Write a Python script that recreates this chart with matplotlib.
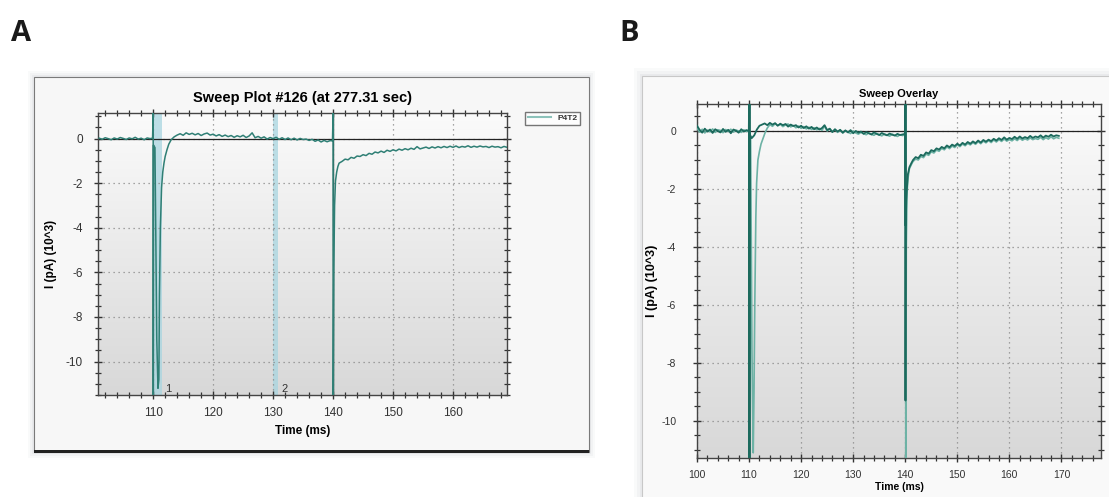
import numpy as np
import matplotlib
matplotlib.use("Agg")
import matplotlib.pyplot as plt
from matplotlib.patches import Rectangle
from matplotlib.ticker import MultipleLocator
from matplotlib.colors import LinearSegmentedColormap

# ---------------- data ----------------
# panel A : single sweep #126
a_pre_t0, a_pre = 101.0, [0.02, -0.03, 0.04, 0.0, -0.05, 0.03, -0.02, 0.05, 0.01, -0.04,
                          0.03, -0.01, 0.06, -0.02, 0.02, -0.05, 0.03, 0.0]
a_spk1_t = [109.9, 110.0, 110.02, 110.06, 110.3, 110.6, 110.8, 110.95, 111.05, 111.2,
            111.4, 111.6, 111.8, 112.0, 112.3, 112.6, 113.0]
a_spk1_v = [0.02, 1.15, -11.5, -0.3, -0.4, -9.0, -11.2, -10.8, -7.0, -4.0,
            -2.2, -1.5, -1.1, -0.8, -0.5, -0.25, -0.05]
a_mid_t0, a_mid = 113.5, [0.08, 0.16, 0.22, 0.15, 0.26, 0.19, 0.24, 0.17, 0.23, 0.14,
                          0.21, 0.25, 0.16, 0.2, 0.12, 0.18, 0.1, 0.16, 0.09, 0.14,
                          0.06, 0.13, 0.08, 0.15, 0.05, 0.12, 0.26, 0.04, 0.1, 0.02,
                          0.08, -0.02, 0.05, 0.0, 0.06, -0.03, 0.04, -0.04, 0.03, -0.05,
                          0.02, -0.06, 0.01, -0.04, -0.02, -0.08, -0.03, -0.12, -0.06, -0.15,
                          -0.08, -0.14, -0.09]
a_spk2_t = [139.9, 140.0, 140.03, 140.12, 140.25, 140.4, 140.6, 140.8, 141.0]
a_spk2_v = [-0.1, 1.15, -11.5, -6.0, -3.0, -1.9, -1.5, -1.25, -1.1]
a_post_t0, a_post = 141.5, [-1.02, -0.92, -0.95, -0.84, -0.88, -0.78, -0.8, -0.72, -0.76, -0.66,
                            -0.7, -0.6, -0.64, -0.56, -0.62, -0.52, -0.57, -0.5, -0.55, -0.47,
                            -0.52, -0.45, -0.5, -0.43, -0.48, -0.36, -0.46, -0.42, -0.38, -0.44,
                            -0.37, -0.42, -0.36, -0.41, -0.35, -0.4, -0.34, -0.39, -0.33, -0.4,
                            -0.35, -0.38, -0.32, -0.39, -0.34, -0.38, -0.33, -0.37, -0.35, -0.4,
                            -0.34, -0.38, -0.36, -0.41, -0.35, -0.39]
a_windows = [(109.9, 111.4, "1"), (129.9, 130.8, "2")]

# panel B : overlay of two sweeps (dark and light)
b1_pre_t0, b1_pre = 100.0, [0.18, 0.04, -0.06, 0.08, -0.02, 0.05, -0.07, 0.06, 0.0, -0.05,
                            0.07, -0.03, 0.04, -0.08, 0.05, 0.01, -0.06, 0.06, -0.02, 0.03]
b1_spk1_t = [109.95, 110.0, 110.04, 110.1, 110.5, 111.0, 111.5, 112.0, 112.5]
b1_spk1_v = [0.0, 0.95, -11.3, -0.1, -0.25, -0.15, 0.05, 0.18, 0.22]
b1_mid_t0, b1_mid = 113.0, [0.26, 0.2, 0.28, 0.22, 0.27, 0.18, 0.25, 0.2, 0.24, 0.15,
                            0.22, 0.17, 0.2, 0.12, 0.18, 0.1, 0.16, 0.08, 0.14, 0.06,
                            0.12, 0.05, 0.1, 0.2, 0.03, 0.08, -0.04, 0.06, -0.02, 0.04,
                            -0.06, 0.02, -0.05, 0.03, -0.08, 0.0, -0.06, -0.02, -0.1, -0.04,
                            -0.08, -0.12, -0.05, -0.1, -0.14, -0.07, -0.12, -0.15, -0.09, -0.13,
                            -0.16, -0.1, -0.14, -0.12]
b1_spk2_t = [139.95, 140.0, 140.04, 140.1, 140.2, 140.35, 140.5, 140.8, 141.2]
b1_spk2_v = [-0.1, 0.95, -9.3, -3.2, -2.4, -1.9, -1.5, -1.25, -1.1]
b1_post_t0, b1_post = 141.5, [-1.0, -0.9, -0.94, -0.82, -0.86, -0.74, -0.78, -0.66, -0.7, -0.6,
                              -0.64, -0.55, -0.6, -0.5, -0.56, -0.47, -0.52, -0.44, -0.5, -0.41,
                              -0.47, -0.38, -0.44, -0.36, -0.42, -0.33, -0.4, -0.31, -0.37, -0.3,
                              -0.35, -0.27, -0.33, -0.25, -0.31, -0.22, -0.3, -0.24, -0.28, -0.2,
                              -0.27, -0.19, -0.26, -0.21, -0.25, -0.17, -0.24, -0.19, -0.22, -0.15,
                              -0.23, -0.16, -0.2, -0.13, -0.19, -0.15, -0.17]

b2_pre_t0, b2_pre = 100.0, [0.1, -0.04, 0.06, -0.07, 0.03, -0.03, 0.07, -0.05, 0.04, 0.02,
                            -0.06, 0.05, -0.02, 0.06, -0.04, 0.03, 0.0, -0.05, 0.04, -0.02]
b2_spk1_t = [109.95, 110.1, 110.3, 110.55, 110.8, 110.95, 111.1, 111.3, 111.45, 111.7,
             112.0, 112.3, 112.7, 113.1, 113.5]
b2_spk1_v = [0.02, 0.0, -0.3, -7.5, -11.1, -9.0, -6.0, -3.0, -1.8, -1.0,
             -0.7, -0.45, -0.25, -0.05, 0.1]
b2_mid_t0, b2_mid = 114.0, [0.22, 0.16, 0.25, 0.19, 0.23, 0.15, 0.21, 0.24, 0.14, 0.19,
                            0.11, 0.17, 0.09, 0.15, 0.07, 0.13, 0.05, 0.11, 0.04, 0.09,
                            0.02, 0.16, 0.0, 0.07, -0.03, 0.05, -0.05, 0.03, -0.07, 0.01,
                            -0.04, -0.09, 0.0, -0.07, -0.11, -0.05, -0.09, -0.13, -0.07, -0.12,
                            -0.15, -0.08, -0.13, -0.17, -0.1, -0.14, -0.18, -0.11, -0.15, -0.19,
                            -0.13, -0.16]
b2_spk2_t = [139.95, 140.05, 140.1, 140.2, 140.35, 140.55, 140.8, 141.2]
b2_spk2_v = [-0.12, -0.5, -11.3, -4.0, -2.1, -1.6, -1.3, -1.15]
b2_post_t0, b2_post = 141.5, [-1.05, -0.97, -1.0, -0.88, -0.92, -0.8, -0.84, -0.72, -0.76, -0.66,
                              -0.7, -0.6, -0.65, -0.55, -0.61, -0.52, -0.57, -0.48, -0.54, -0.45,
                              -0.51, -0.43, -0.48, -0.4, -0.46, -0.37, -0.44, -0.35, -0.41, -0.33,
                              -0.4, -0.31, -0.38, -0.3, -0.36, -0.28, -0.35, -0.3, -0.34, -0.27,
                              -0.33, -0.25, -0.32, -0.27, -0.31, -0.24, -0.3, -0.26, -0.29, -0.22,
                              -0.3, -0.23, -0.28, -0.2, -0.27, -0.22, -0.25]


def sampled(t0, vals, step=0.5):
    return t0 + step * np.arange(len(vals)), np.array(vals)


def trace(parts):
    ts, vs = [], []
    for t, v in parts:
        ts.append(np.asarray(t, dtype=float))
        vs.append(np.asarray(v, dtype=float))
    return np.concatenate(ts), np.concatenate(vs)


tA, iA = trace([sampled(a_pre_t0, a_pre), (a_spk1_t, a_spk1_v), sampled(a_mid_t0, a_mid),
                (a_spk2_t, a_spk2_v), sampled(a_post_t0, a_post)])
tB1, iB1 = trace([sampled(b1_pre_t0, b1_pre), (b1_spk1_t, b1_spk1_v), sampled(b1_mid_t0, b1_mid),
                  (b1_spk2_t, b1_spk2_v), sampled(b1_post_t0, b1_post)])
tB2, iB2 = trace([sampled(b2_pre_t0, b2_pre), (b2_spk1_t, b2_spk1_v), sampled(b2_mid_t0, b2_mid),
                  (b2_spk2_t, b2_spk2_v), sampled(b2_post_t0, b2_post)])

# ---------------- figure ----------------
plt.rcParams['font.family'] = ['Liberation Sans', 'DejaVu Sans']
plt.rcParams['axes.unicode_minus'] = False
fig = plt.figure(figsize=(11.09, 4.97), dpi=100)
fig.patch.set_facecolor('white')

W, H = 1109.0, 497.0


def px_rect(x0, y0, x1, y1, **kw):
    # rectangle given in pixel coords (origin top-left)
    r = Rectangle((x0 / W, 1 - y1 / H), (x1 - x0) / W, (y1 - y0) / H,
                  transform=fig.transFigure, **kw)
    fig.patches.append(r)
    return r


# screenshot frames with soft shadow
for k, a in [(6, 0.05), (4, 0.07), (2, 0.1)]:
    px_rect(34 - k, 77 - k, 589 + k, 452 + k, facecolor='#9aa4ad', alpha=a, edgecolor='none', zorder=0)
px_rect(34, 77, 589, 452, facecolor='#f7f7f7', edgecolor='#7a7a7a', lw=0.8, zorder=1)
px_rect(34, 450, 589, 453, facecolor='#222222', edgecolor='none', zorder=1)
for k, a in [(8, 0.05), (5, 0.07), (2, 0.1)]:
    px_rect(642 - k, 76 - k, 1115, 505, facecolor='#9aa4ad', alpha=a, edgecolor='none', zorder=0)
px_rect(642, 76, 1115, 505, facecolor='#f9f9f9', edgecolor='#c8c8c8', lw=0.8, zorder=1)

fig.text(11 / W, 1 - 41 / H, "A", fontsize=21, fontweight='bold', family='Open Sans', color='#1a1a1a')
fig.text(619 / W, 1 - 41 / H, "B", fontsize=21, fontweight='bold', family='Open Sans', color='#1a1a1a')

grad = LinearSegmentedColormap.from_list('bg', ['#fbfbfb', '#d8d8d8'])


def style_axes(ax, xlim, ylim, xmaj, fs, ypad, xpad):
    ax.imshow(np.linspace(0, 1, 256).reshape(-1, 1), extent=[0, 1, 0, 1], transform=ax.transAxes,
              cmap=grad, aspect='auto', zorder=0, interpolation='bilinear')
    ax.set_xlim(*xlim)
    ax.set_ylim(*ylim)
    ax.xaxis.set_major_locator(MultipleLocator(xmaj))
    ax.xaxis.set_minor_locator(MultipleLocator(2))
    ax.yaxis.set_major_locator(MultipleLocator(2))
    ax.yaxis.set_minor_locator(MultipleLocator(0.5))
    ax.tick_params(which='both', direction='inout', top=True, right=True, color='#333333',
                   labelcolor='#333333', labelsize=fs)
    ax.tick_params(which='major', length=6, width=1)
    ax.tick_params(which='minor', length=4, width=0.9)
    ax.tick_params(axis='y', which='major', pad=ypad)
    ax.tick_params(axis='x', which='major', pad=xpad)
    ax.grid(True, which='major', ls=(0, (1, 3)), color='#8a8a8a', lw=0.9, zorder=1)
    ax.axhline(0, color='#222222', lw=0.9, zorder=2)
    for s in ax.spines.values():
        s.set_color('#444444')
        s.set_linewidth(1.0)


# panel A
axA = fig.add_axes([98 / W, 1 - 395 / H, 409 / W, 282 / H])
style_axes(axA, (100.8, 169.0), (-11.5, 1.15), 10, 8.5, 8, 6)
axA.set_zorder(2)
for x0, x1, lab in a_windows:
    axA.axvspan(x0, x1, color='#a8d5e0', alpha=0.75, lw=0, zorder=1.5)
    axA.text(x1 + 0.6, -11.45, lab, fontsize=8, color='#333333', va='bottom', zorder=5)
axA.axvline(140.0, color='#1f3f3a', lw=1.0, zorder=2.5)
lineA, = axA.plot(tA, iA, color='#2f7f75', lw=1.1, zorder=3, label='P4T2')
axA.set_title("Sweep Plot #126 (at 277.31 sec)", fontsize=10.5, fontweight='bold', pad=8)
axA.set_xlabel("Time (ms)", fontsize=8.5, fontweight='bold', labelpad=4)
axA.set_ylabel("I (pA) (10^3)", fontsize=8.5, fontweight='bold', labelpad=6)
leg = axA.legend(handles=[lineA], loc='upper left', bbox_to_anchor=(525 / W, 1 - 112 / H),
                 bbox_transform=fig.transFigure, fontsize=6, frameon=True, fancybox=False,
                 handlelength=2.8, borderpad=0.3, borderaxespad=0)
leg.get_frame().set_edgecolor('#555555')
leg.get_frame().set_linewidth(1.0)
leg.get_lines()[0].set_color('#8cc2ba')
leg.get_lines()[0].set_linewidth(1.5)
for t in leg.get_texts():
    t.set_color('#333333')
    t.set_fontweight('bold')

# panel B
axB = fig.add_axes([697 / W, 1 - 458 / H, 404 / W, 354 / H])
style_axes(axB, (100.0, 177.6), (-11.28, 0.93), 10, 7.5, 12, 6)
axB.set_zorder(2)
axB.plot(tB2, iB2, color='#6db2a5', lw=1.2, zorder=3)
axB.plot(tB1, iB1, color='#1c6a5d', lw=1.3, zorder=4)
axB.plot([110.05, 110.05], [0.93, -11.28], color='#1c6a5d', lw=2.0, zorder=4)
axB.plot([140.0, 140.0], [0.93, -3.2], color='#1c6a5d', lw=2.0, zorder=4)
axB.set_title("Sweep Overlay", fontsize=8, fontweight='bold', pad=5)
axB.set_xlabel("Time (ms)", fontsize=7.5, fontweight='bold', labelpad=1)
axB.set_ylabel("I (pA) (10^3)", fontsize=9, fontweight='bold', labelpad=2)

fig.savefig("out.png", dpi=100)
